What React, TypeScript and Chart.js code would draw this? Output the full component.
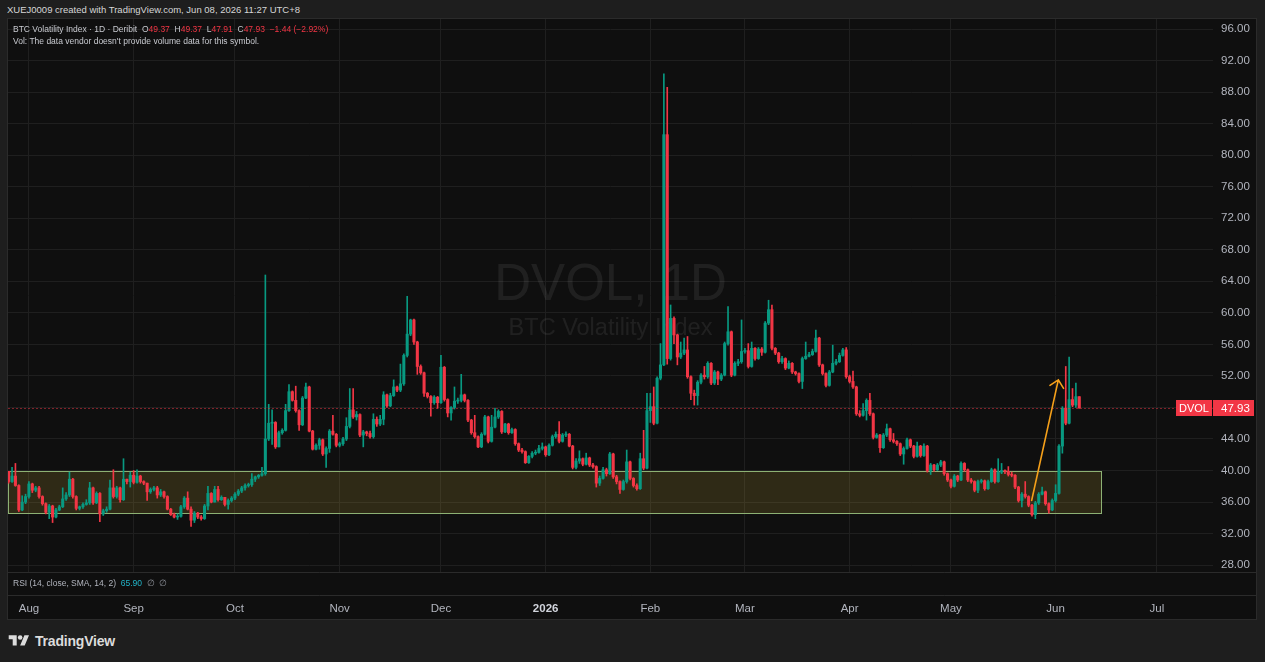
import { useEffect, useRef } from 'react';
import { Chart, registerables } from 'chart.js';

Chart.register(...registerables);

const FONT = '"Liberation Sans", Arial, sans-serif';

// Daily candles, first candle = Jul 26 2025 (day -6, day 0 = Aug 1 2025)
const startDay = -6;
const firstOpen = 39.9;
const closes = [
  38.6, 39.3, 38.1, 35.0, 36.0, 36.7, 38.3, 37.5, 37.8, 36.7,
  35.8, 34.7, 35.5, 34.1, 35.0, 35.4, 36.4, 36.9, 38.9, 36.7,
  35.2, 35.4, 35.7, 35.9, 37.8, 35.9, 37.1, 34.5, 34.9, 35.1,
  37.8, 36.7, 37.8, 36.3, 38.9, 38.6, 39.4, 38.5, 39.3, 38.6,
  38.4, 37.3, 37.6, 37.8, 36.9, 37.3, 36.7, 35.1, 34.4, 34.1,
  34.2, 35.4, 36.5, 35.1, 33.7, 34.6, 34.1, 33.9, 35.5, 37.1,
  36.0, 37.6, 36.3, 36.6, 35.7, 36.2, 36.5, 37.0, 37.4, 37.8,
  38.1, 38.2, 38.9, 39.2, 39.4, 39.6, 44.0, 46.0, 46.1, 43.0,
  44.8, 45.1, 47.6, 50.0, 48.9, 47.6, 45.8, 49.2, 50.6, 45.0,
  42.7, 43.2, 43.9, 42.1, 42.8, 45.0, 44.6, 43.2, 43.4, 44.0,
  45.6, 47.7, 46.8, 47.1, 44.5, 44.9, 44.7, 44.3, 46.5, 45.9,
  46.5, 49.6, 48.2, 49.5, 50.6, 50.2, 51.0, 54.6, 57.3, 59.1,
  56.3, 53.2, 52.4, 49.8, 49.4, 48.6, 49.3, 48.6, 53.1, 49.0,
  47.3, 48.0, 48.8, 48.9, 49.6, 48.9, 46.4, 44.8, 44.3, 43.0,
  44.6, 46.8, 43.7, 45.5, 46.8, 47.5, 44.9, 45.9, 44.8, 45.2,
  43.4, 42.6, 42.4, 41.0, 41.8, 42.2, 42.3, 42.8, 43.0, 42.0,
  43.2, 44.3, 44.6, 43.7, 44.5, 44.6, 43.1, 40.4, 41.2, 41.5,
  40.8, 41.6, 40.7, 40.5, 38.4, 39.0, 40.1, 39.6, 42.1, 39.2,
  38.6, 37.6, 38.6, 41.1, 39.0, 38.1, 37.7, 41.5, 40.3, 47.6,
  48.1, 46.0, 51.7, 53.4, 82.6, 54.2, 59.3, 57.2, 54.4, 54.9,
  55.3, 51.9, 49.8, 49.5, 51.2, 52.1, 51.9, 53.6, 51.1, 52.5,
  51.6, 52.1, 56.1, 57.6, 52.1, 53.6, 53.8, 55.1, 55.2, 53.2,
  55.5, 54.2, 55.4, 55.0, 58.7, 60.4, 55.5, 54.9, 53.8, 54.2,
  53.0, 53.6, 52.5, 52.3, 51.3, 54.2, 54.5, 54.7, 55.1, 56.8,
  53.4, 52.3, 50.8, 52.5, 53.6, 53.8, 54.6, 55.3, 51.9, 51.3,
  50.6, 47.2, 47.0, 47.6, 48.9, 47.2, 44.2, 44.5, 42.9, 44.5,
  45.3, 43.9, 43.7, 43.4, 42.1, 42.8, 43.9, 43.1, 41.8, 43.1,
  41.9, 43.1, 40.0, 40.7, 40.1, 40.7, 41.1, 39.6, 38.8, 38.0,
  39.3, 38.8, 40.9, 40.1, 38.8, 38.6, 37.5, 38.6, 38.7, 37.7,
  38.6, 40.1, 38.6, 39.8, 40.0, 39.9, 39.5, 39.4, 37.9, 36.2,
  37.0, 36.7, 35.6, 34.4, 35.9, 37.0, 37.3, 35.8, 35.0, 36.2,
  37.1, 43.1, 47.9, 46.0, 49.0, 48.3, 49.37, 47.93,
];
const highs = [
  39.9, 40.4, 40.9, 38.2, 36.8, 37.0, 38.6, 38.4, 38.0, 38.0,
  36.8, 35.9, 35.7, 35.6, 35.2, 35.6, 37.8, 37.2, 39.8, 39.0,
  36.8, 35.5, 35.9, 36.3, 38.5, 37.9, 37.3, 37.2, 35.1, 35.4,
  38.8, 40.1, 38.0, 37.9, 41.5, 38.9, 39.8, 40.0, 40.1, 39.4,
  38.7, 38.4, 37.8, 38.0, 38.0, 37.6, 37.4, 36.8, 35.2, 34.6,
  34.5, 35.6, 36.7, 37.3, 35.4, 34.8, 34.7, 34.3, 35.7, 38.0,
  37.2, 38.0, 38.0, 36.8, 36.5, 36.4, 36.7, 37.2, 37.6, 38.0,
  38.3, 38.4, 39.6, 39.3, 39.5, 40.4, 64.8, 48.4, 47.7, 46.2,
  45.0, 45.3, 48.4, 50.9, 50.1, 50.7, 47.7, 49.4, 51.1, 50.7,
  45.1, 43.4, 44.1, 44.0, 43.0, 45.2, 47.0, 44.7, 43.6, 44.2,
  46.7, 50.4, 50.4, 47.5, 47.2, 45.1, 45.0, 45.0, 47.2, 46.8,
  47.0, 50.0, 49.7, 49.8, 51.5, 50.7, 53.5, 54.8, 62.1, 59.2,
  59.2, 56.4, 53.4, 52.5, 49.9, 49.5, 49.5, 49.4, 54.6, 53.2,
  49.1, 48.1, 50.6, 49.2, 52.2, 49.7, 49.0, 46.5, 47.0, 44.4,
  44.8, 47.0, 46.9, 47.0, 47.9, 47.7, 47.6, 46.0, 46.0, 45.4,
  45.3, 43.5, 42.8, 42.5, 41.9, 42.4, 42.6, 43.2, 43.5, 43.1,
  43.4, 44.5, 44.9, 46.2, 44.7, 44.9, 44.7, 43.2, 41.5, 42.5,
  41.6, 42.2, 41.7, 40.9, 40.6, 39.3, 40.4, 40.3, 42.3, 42.2,
  39.4, 38.7, 38.8, 42.6, 41.2, 39.1, 38.3, 42.2, 45.1, 49.8,
  49.8, 50.6, 51.9, 56.1, 90.3, 88.6, 61.0, 59.5, 57.3, 56.3,
  56.8, 57.0, 52.0, 50.2, 51.4, 52.3, 53.2, 53.8, 53.7, 52.7,
  52.6, 52.3, 56.3, 60.8, 57.7, 53.8, 54.1, 59.1, 55.5, 56.1,
  56.3, 55.6, 55.6, 55.6, 58.9, 61.6, 61.0, 55.6, 55.0, 54.5,
  54.3, 53.9, 53.7, 52.6, 52.4, 54.4, 56.3, 55.0, 55.4, 57.8,
  56.9, 53.5, 52.4, 52.7, 55.9, 54.1, 54.9, 55.5, 55.6, 52.1,
  52.6, 50.7, 47.6, 48.5, 49.1, 49.8, 47.3, 44.7, 44.6, 44.7,
  45.9, 45.4, 44.7, 43.8, 43.5, 43.0, 44.1, 44.0, 43.2, 43.6,
  43.2, 43.4, 43.2, 40.9, 40.8, 40.9, 41.3, 41.2, 39.7, 38.9,
  39.5, 39.4, 41.1, 41.0, 40.2, 39.0, 38.7, 38.8, 38.9, 38.8,
  38.8, 40.3, 40.2, 41.5, 40.9, 40.1, 40.5, 39.8, 39.5, 38.0,
  37.2, 38.6, 36.8, 35.7, 36.1, 37.2, 37.9, 37.4, 35.9, 36.4,
  38.2, 43.3, 48.1, 53.2, 54.4, 50.4, 51.1, 49.37,
];
const lows = [
  38.4, 38.5, 38.0, 34.8, 34.9, 35.8, 36.5, 37.2, 37.3, 36.5,
  35.6, 34.5, 33.9, 33.4, 34.0, 34.9, 35.3, 36.2, 36.7, 36.5,
  35.0, 35.0, 35.2, 35.6, 35.7, 35.7, 35.8, 33.5, 34.3, 34.7,
  35.0, 36.5, 36.5, 36.0, 36.2, 38.3, 37.9, 38.3, 38.4, 38.4,
  38.2, 36.2, 37.1, 37.4, 36.5, 36.7, 36.5, 35.0, 34.3, 34.0,
  33.8, 34.1, 35.2, 35.0, 32.9, 33.4, 33.9, 33.7, 33.8, 35.0,
  35.9, 36.1, 36.1, 36.2, 35.5, 35.1, 36.0, 36.3, 36.8, 37.2,
  37.5, 37.9, 38.0, 38.6, 39.0, 39.3, 39.4, 43.8, 43.3, 42.8,
  43.1, 44.6, 45.0, 47.5, 48.8, 47.4, 45.1, 45.7, 49.1, 44.9,
  42.6, 42.6, 42.7, 41.9, 40.4, 42.3, 44.5, 43.0, 43.0, 43.2,
  43.8, 45.4, 46.6, 46.4, 44.3, 43.0, 44.4, 44.1, 44.1, 45.6,
  45.7, 45.8, 48.0, 48.1, 49.4, 50.0, 50.0, 50.8, 54.4, 57.1,
  56.0, 52.2, 52.2, 49.4, 49.2, 46.9, 48.4, 47.9, 48.5, 48.8,
  46.8, 46.4, 47.8, 48.5, 48.7, 48.7, 46.2, 44.6, 44.1, 42.9,
  42.9, 44.5, 43.5, 43.6, 45.4, 46.6, 44.7, 44.8, 44.6, 44.7,
  43.2, 42.4, 42.2, 40.9, 40.9, 41.6, 42.0, 42.2, 42.6, 41.8,
  41.9, 43.1, 44.1, 43.5, 43.6, 44.3, 43.0, 40.2, 40.2, 40.9,
  40.6, 40.7, 40.5, 40.3, 37.9, 38.1, 38.9, 39.3, 39.5, 39.0,
  38.3, 37.1, 37.5, 38.4, 38.8, 37.9, 37.5, 37.6, 40.1, 40.2,
  46.1, 45.8, 45.9, 51.5, 53.3, 53.5, 54.0, 56.1, 53.4, 54.2,
  54.7, 51.7, 49.0, 48.3, 48.3, 51.0, 51.6, 51.7, 50.9, 50.9,
  50.9, 51.4, 52.0, 55.9, 51.9, 52.0, 53.3, 53.6, 54.9, 53.0,
  53.1, 54.0, 54.1, 54.6, 54.9, 58.5, 55.3, 54.7, 53.6, 53.6,
  52.8, 52.9, 52.3, 52.1, 51.1, 50.4, 54.1, 54.4, 54.6, 55.0,
  53.2, 52.1, 50.6, 50.7, 52.4, 53.4, 53.7, 54.5, 51.7, 51.1,
  50.4, 47.0, 46.8, 46.9, 46.4, 47.0, 44.0, 44.1, 42.3, 42.8,
  44.3, 43.7, 43.5, 43.2, 41.9, 40.8, 42.7, 42.9, 41.6, 41.7,
  41.7, 41.8, 39.8, 39.5, 39.9, 40.0, 40.5, 39.4, 38.6, 37.8,
  37.9, 38.6, 38.7, 39.9, 38.6, 38.4, 37.3, 37.2, 38.4, 37.5,
  37.6, 38.5, 38.4, 38.5, 39.6, 39.6, 39.3, 39.2, 37.7, 36.0,
  35.4, 36.5, 35.4, 34.2, 33.9, 35.7, 36.9, 35.6, 34.6, 34.9,
  36.0, 37.0, 42.2, 45.8, 45.9, 48.1, 48.0, 47.91,
];

// Time axis (day index relative to Aug 1 2025)
const monthTickDays = [0, 31, 61, 92, 122, 153, 184, 212, 243, 273, 304, 334];
const monthTickLabels = ['Aug', 'Sep', 'Oct', 'Nov', 'Dec', '2026', 'Feb', 'Mar', 'Apr', 'May', 'Jun', 'Jul'];
const priceTicks = [28, 32, 36, 40, 44, 48, 52, 56, 60, 64, 68, 72, 76, 80, 84, 88, 92, 96];

// Drawings
const zoneRange = [34.57, 39.93];
const zoneEndDay = 317.7;
const arrowFrom = [296.9, 36.2];
const arrowTo = [304.8, 51.5];
const lastClose = 47.93;

const GREEN = '#089981';
const RED = '#f23645';

const opens = closes.map((_, i) => (i === 0 ? firstOpen : closes[i - 1]));
const candleColors = closes.map((c, i) => (c >= opens[i] ? GREEN : RED));
const bodyData = closes.map((c, i) => ({ x: startDay + i, y: [opens[i], c] }));
const wickData = closes.map((c, i) => ({
  x: startDay + i,
  y: [Math.min(lows[i], opens[i], c), Math.max(highs[i], opens[i], c)],
}));

const zeroPadding = (s: any) => {
  s.paddingLeft = 0;
  s.paddingRight = 0;
  s.paddingTop = 0;
  s.paddingBottom = 0;
};

const overlayPlugin = {
  id: 'tvOverlay',
  beforeDatasetsDraw(chart: any) {
    const { ctx, chartArea: a, scales } = chart;
    const x = scales.x;
    const y = scales.y;
    ctx.save();
    const cx = (a.left + a.right) / 2;
    ctx.fillStyle = 'rgba(255,255,255,0.075)';
    ctx.textAlign = 'center';
    ctx.textBaseline = 'alphabetic';
    ctx.font = `51px ${FONT}`;
    ctx.fillText('DVOL, 1D', cx, a.top + 281);
    ctx.font = `23.5px ${FONT}`;
    ctx.fillText('BTC Volatility Index', cx, a.top + 316);

    const x0 = a.left;
    const x1 = x.getPixelForValue(zoneEndDay);
    const yT = Math.round(y.getPixelForValue(zoneRange[1]));
    const yB = Math.round(y.getPixelForValue(zoneRange[0]));
    ctx.fillStyle = 'rgba(205,180,60,0.17)';
    ctx.fillRect(x0, yT, x1 - x0, yB - yT);
    ctx.strokeStyle = '#8db174';
    ctx.lineWidth = 1;
    ctx.strokeRect(x0 + 0.5, yT + 0.5, Math.round(x1 - x0) - 1, yB - yT);
    ctx.restore();
  },
  afterDatasetsDraw(chart: any) {
    const { ctx, chartArea: a, scales, width } = chart;
    const x = scales.x;
    const y = scales.y;
    ctx.save();
    // last price dotted line
    const yp = Math.round(y.getPixelForValue(lastClose)) + 0.5;
    ctx.strokeStyle = 'rgba(242,54,69,0.5)';
    ctx.lineWidth = 1;
    ctx.setLineDash([2, 2]);
    ctx.beginPath();
    ctx.moveTo(a.left, yp);
    ctx.lineTo(a.right, yp);
    ctx.stroke();
    ctx.setLineDash([]);

    // arrow
    const p0x = x.getPixelForValue(arrowFrom[0]);
    const p0y = y.getPixelForValue(arrowFrom[1]);
    const p1x = x.getPixelForValue(arrowTo[0]);
    const p1y = y.getPixelForValue(arrowTo[1]);
    ctx.strokeStyle = '#f5a01a';
    ctx.lineWidth = 1.6;
    ctx.lineCap = 'round';
    ctx.beginPath();
    ctx.moveTo(p0x, p0y);
    ctx.lineTo(p1x, p1y);
    const ang = Math.atan2(p1y - p0y, p1x - p0x) + Math.PI;
    const wing = 10;
    const spread = 0.77;
    ctx.moveTo(p1x + wing * Math.cos(ang + spread), p1y + wing * Math.sin(ang + spread));
    ctx.lineTo(p1x, p1y);
    ctx.lineTo(p1x + wing * Math.cos(ang - spread), p1y + wing * Math.sin(ang - spread));
    ctx.stroke();

    // price tags
    const yc = y.getPixelForValue(lastClose);
    ctx.fillStyle = RED;
    ctx.fillRect(a.right - 37, Math.round(yc) - 8, 36, 16);
    ctx.fillRect(a.right, Math.round(yc) - 8, 41, 16);
    ctx.fillStyle = '#ffffff';
    ctx.textBaseline = 'middle';
    ctx.font = `11px ${FONT}`;
    ctx.textAlign = 'center';
    ctx.fillText('DVOL', a.right - 19, Math.round(yc) + 0.5);
    ctx.font = `11.5px ${FONT}`;
    ctx.textAlign = 'left';
    ctx.fillText(lastClose.toFixed(2), a.right + 8, Math.round(yc) + 0.5);

    // RSI pane separators and label
    ctx.strokeStyle = '#2b2b2b';
    ctx.lineWidth = 1;
    ctx.beginPath();
    ctx.moveTo(0, a.bottom + 0.5);
    ctx.lineTo(width, a.bottom + 0.5);
    ctx.moveTo(0, a.bottom + 23.5);
    ctx.lineTo(width, a.bottom + 23.5);
    ctx.stroke();

    ctx.font = `8.5px ${FONT}`;
    ctx.textAlign = 'left';
    ctx.textBaseline = 'middle';
    let tx = 5;
    const ty = a.bottom + 12;
    const parts: [string, string][] = [
      ['RSI (14, close, SMA, 14, 2)', '#b2b5be'],
      ['  65.90', '#22b5c9'],
      ['  \u2205  \u2205', '#8a8d95'],
    ];
    for (const [t, c] of parts) {
      ctx.fillStyle = c;
      ctx.fillText(t, tx, ty);
      tx += ctx.measureText(t).width;
    }
    ctx.restore();
  },
};

export default function App() {
  const ref = useRef<HTMLCanvasElement>(null);

  useEffect(() => {
    document.body.style.margin = '0';
    document.body.style.background = '#1e1e1e';
    Chart.defaults.font.family = FONT;
    const chart = new Chart(ref.current as HTMLCanvasElement, {
      type: 'bar',
      data: {
        datasets: [
          {
            label: 'body',
            data: bodyData as any,
            backgroundColor: candleColors,
            barThickness: 2.4,
            minBarLength: 1,
            borderWidth: 0,
            grouped: false,
            order: 0,
          } as any,
          {
            label: 'wick',
            data: wickData as any,
            backgroundColor: candleColors,
            barThickness: 1,
            borderWidth: 0,
            grouped: false,
            order: 1,
          } as any,
        ],
      },
      options: {
        animation: false,
        responsive: true,
        maintainAspectRatio: false,
        layout: { padding: 0 },
        plugins: { legend: { display: false }, tooltip: { enabled: false } },
        scales: {
          x: {
            type: 'linear',
            min: -6.2,
            max: 350.6,
            offset: false,
            grid: { color: '#1f1f1f', drawTicks: false, offset: false },
            border: { display: false },
            afterBuildTicks: (s: any) => {
              s.ticks = monthTickDays.map((v) => ({ value: v }));
            },
            afterFit: (s: any) => {
              s.height = 47;
              zeroPadding(s);
            },
            ticks: {
              autoSkip: false,
              maxRotation: 0,
              padding: 30,
              font: (c: any) =>
                c.tick && c.tick.value === monthTickDays[5]
                  ? { size: 11.5, weight: 'bold', family: FONT }
                  : { size: 11.5, family: FONT },
              color: (c: any) => (c.tick && c.tick.value === monthTickDays[5] ? '#d1d4dc' : '#b2b5be'),
              callback: (v: any) => {
                const i = monthTickDays.indexOf(Number(v));
                return i >= 0 ? monthTickLabels[i] : '';
              },
            },
          } as any,
          y: {
            type: 'linear',
            position: 'right',
            min: 27.13,
            max: 97.27,
            grid: { color: '#1f1f1f', drawTicks: false },
            border: { display: false },
            afterBuildTicks: (s: any) => {
              s.ticks = priceTicks.map((v) => ({ value: v }));
            },
            afterFit: (s: any) => {
              s.width = 43;
              zeroPadding(s);
            },
            ticks: {
              padding: 8,
              color: '#b2b5be',
              font: { size: 11.5, family: FONT },
              callback: (v: any) => Number(v).toFixed(2),
            },
          } as any,
        },
      },
      plugins: [overlayPlugin as any],
    });
    return () => chart.destroy();
  }, []);

  return (
    <div
      style={{
        position: 'relative',
        width: 1265,
        height: 662,
        background: '#1e1e1e',
        overflow: 'hidden',
        fontFamily: FONT,
      }}
    >
      <div
        style={{
          position: 'absolute',
          left: 7,
          top: 4,
          fontSize: 9.5,
          lineHeight: '12px',
          color: '#d6d6d6',
          whiteSpace: 'nowrap',
        }}
      >
        XUEJ0009 created with TradingView.com, Jun 08, 2026 11:27 UTC+8
      </div>
      <div
        style={{
          position: 'absolute',
          left: 7,
          top: 18,
          width: 1248,
          height: 600,
          border: '1px solid #2b2b2b',
          background: '#0f0f0f',
        }}
      >
        <div style={{ position: 'absolute', left: 0, top: 0, width: 1248, height: 600 }}>
          <canvas ref={ref} />
        </div>
        <div
          style={{
            position: 'absolute',
            left: 5,
            top: 4,
            fontSize: 8.5,
            lineHeight: '12px',
            color: '#c8cad0',
            whiteSpace: 'nowrap',
            pointerEvents: 'none',
          }}
        >
          <div>
            BTC Volatility Index · 1D · Deribit&nbsp;&nbsp;O<span style={{ color: RED }}>49.37</span>&nbsp;&nbsp;H
            <span style={{ color: RED }}>49.37</span>&nbsp;&nbsp;L<span style={{ color: RED }}>47.91</span>&nbsp;&nbsp;C
            <span style={{ color: RED }}>47.93</span>&nbsp;&nbsp;<span style={{ color: RED }}>−1.44 (−2.92%)</span>
          </div>
          <div>Vol: The data vendor doesn't provide volume data for this symbol.</div>
        </div>
      </div>
      <div
        style={{
          position: 'absolute',
          left: 8,
          top: 633,
          height: 16,
          display: 'flex',
          alignItems: 'center',
          gap: 5,
          color: '#dcdcdc',
        }}
      >
        <svg width="22" height="16" viewBox="0 0 36 28">
          <path d="M14 22H7V11H0V4h14v18zM28 22h-8l7.5-18h8L28 22z" fill="#dcdcdc" />
          <circle cx="20" cy="8" r="4" fill="#dcdcdc" />
        </svg>
        <span style={{ fontSize: 14, fontWeight: 'bold', letterSpacing: -0.2 }}>TradingView</span>
      </div>
    </div>
  );
}
